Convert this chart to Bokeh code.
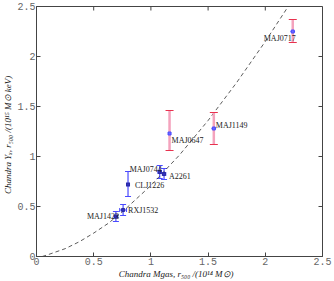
import math
from bokeh.plotting import figure
from bokeh.models import (ColumnDataSource, Whisker, TeeHead, Label, FixedTicker, Range1d)
from bokeh.embed import file_html
from bokeh.resources import INLINE

# ---- data ----
hi_names = ["MAJ0717", "MAJ1149", "MAJ0647"]
hi_mgas = [2.24, 1.55, 1.163]
hi_mgas_err = [0.02, 0.02, 0.012]
hi_yx = [2.25, 1.28, 1.23]
hi_yx_lo = [2.14, 1.12, 1.06]
hi_yx_hi = [2.37, 1.44, 1.46]

lo_names = ["MAJ0744", "A2261", "CLJ1226", "RXJ1532", "MAJ1423"]
lo_mgas = [1.077, 1.115, 0.80, 0.757, 0.694]
lo_mgas_err = [0.015, 0.015, 0.012, 0.03, 0.015]
lo_yx = [0.845, 0.825, 0.72, 0.465, 0.40]
lo_yx_lo = [0.78, 0.77, 0.60, 0.41, 0.35]
lo_yx_hi = [0.91, 0.88, 0.85, 0.52, 0.45]

fit_mgas = [0.05, 0.1, 0.25, 0.375, 0.5, 0.625, 0.75, 1.0, 1.25, 1.5, 1.75, 2.0, 2.2]
fit_yx = [0.0, 0.018, 0.078, 0.148, 0.234, 0.33, 0.446, 0.71, 1.015, 1.36, 1.74, 2.15, 2.50]

x_ticks = [0, 0.5, 1, 1.5, 2, 2.5]
y_ticks = [0, 0.5, 1, 1.5, 2, 2.5]
x_max = 2.5
y_max = 2.5

x_label = "Chandra  Mgas, r₅₀₀   /(10¹⁴ M⊙)"
y_label = "Chandra  Yₓ, r₅₀₀   /(10¹⁵ M⊙ keV)"

# ---- figure ----
p = figure(width=334, height=281, output_backend="svg", toolbar_location=None,
           x_range=Range1d(0, x_max), y_range=Range1d(0, y_max),
           min_border_left=32, min_border_right=12, min_border_top=6,
           min_border_bottom=24)
p.grid.visible = False
p.outline_line_color = "#444444"
p.outline_line_width = 1
p.background_fill_color = "white"

for ax in (p.xaxis[0], p.yaxis[0]):
    ax.major_tick_in = 4
    ax.major_tick_out = 0
    ax.minor_tick_line_color = None
    ax.axis_line_color = "#444444"
    ax.major_tick_line_color = "#444444"
    ax.major_label_text_font = "Liberation Mono"
    ax.major_label_text_font_size = "10px"
    ax.major_label_text_color = "#666666"
    ax.major_label_standoff = 1
    ax.axis_label_text_font = "Liberation Serif"
    ax.axis_label_text_font_size = "9px"
    ax.axis_label_text_font_style = "italic"
    ax.axis_label_text_color = "#222222"
    ax.axis_label_standoff = 1
p.xaxis[0].ticker = FixedTicker(ticks=x_ticks)
p.yaxis[0].ticker = FixedTicker(ticks=y_ticks)
p.xaxis[0].axis_label = x_label
p.yaxis[0].axis_label = y_label

# inward ticks on top and right edges
p.ray(x=x_ticks, y=y_max, length=4, length_units="screen", angle=-math.pi / 2,
      line_color="#444444", line_width=1)
p.ray(x=x_max, y=y_ticks, length=4, length_units="screen", angle=math.pi,
      line_color="#444444", line_width=1)

# fit curve
p.line(fit_mgas, fit_yx, line_dash="4 3", line_color="#333333", line_width=0.8)

# high-z clusters: pink y-errors with red caps
hi = ColumnDataSource(dict(x=hi_mgas, y=hi_yx, lo=hi_yx_lo, hi=hi_yx_hi,
                           xl=[m - e for m, e in zip(hi_mgas, hi_mgas_err)],
                           xh=[m + e for m, e in zip(hi_mgas, hi_mgas_err)]))
p.segment(x0="x", y0="lo", x1="x", y1="hi", source=hi, line_color="#f4a3bd", line_width=2.5)
for key in ("lo", "hi"):
    p.rect(x="x", y=key, width=8, height=1.2, width_units="screen", height_units="screen",
           source=hi, fill_color="#e8324e", line_color=None)
p.segment(x0="xl", y0="y", x1="xh", y1="y", source=hi, line_color="#4a4aff", line_width=1.2)
p.scatter(x="x", y="y", source=hi, marker="square", size=3, fill_color="#6a6aff",
          line_color="#4a4aff")

# low-z clusters: blue errors
lo = ColumnDataSource(dict(x=lo_mgas, y=lo_yx, lo=lo_yx_lo, hi=lo_yx_hi,
                           xl=[m - e for m, e in zip(lo_mgas, lo_mgas_err)],
                           xh=[m + e for m, e in zip(lo_mgas, lo_mgas_err)]))
p.add_layout(Whisker(base="x", lower="lo", upper="hi", source=lo, dimension="height",
                     line_color="#4a4aff", line_width=1.2,
                     lower_head=TeeHead(size=6, line_color="#4a4aff", line_width=1.2),
                     upper_head=TeeHead(size=6, line_color="#4a4aff", line_width=1.2)))
p.add_layout(Whisker(base="y", lower="xl", upper="xh", source=lo, dimension="width",
                     line_color="#4a4aff", line_width=1.2,
                     lower_head=TeeHead(size=4, line_color="#4a4aff", line_width=1.0),
                     upper_head=TeeHead(size=4, line_color="#4a4aff", line_width=1.0)))
p.scatter(x="x", y="y", source=lo, marker="square", size=3, fill_color="#3030c0",
          line_color="#2a2aa0")

# point labels (offsets in screen px)
label_style = {
    "MAJ0717": ("right", 3, -7),
    "MAJ1149": ("left", 2, 3),
    "MAJ0647": ("left", 2, -7),
    "MAJ0744": ("right", 2, 3),
    "A2261": ("left", 5, -2),
    "CLJ1226": ("left", 7, -1),
    "RXJ1532": ("left", 5, 0),
    "MAJ1423": ("right", 3, 0),
}
for names, xs, ys in ((hi_names, hi_mgas, hi_yx), (lo_names, lo_mgas, lo_yx)):
    for n, xv, yv in zip(names, xs, ys):
        al, dx, dy = label_style[n]
        p.add_layout(Label(x=xv, y=yv, text=n, x_offset=dx, y_offset=dy,
                           text_align=al, text_baseline="middle",
                           text_font="Liberation Serif", text_font_size="8px",
                           text_color="#222222"))

open("out.html", "w").write(file_html(p, INLINE))
